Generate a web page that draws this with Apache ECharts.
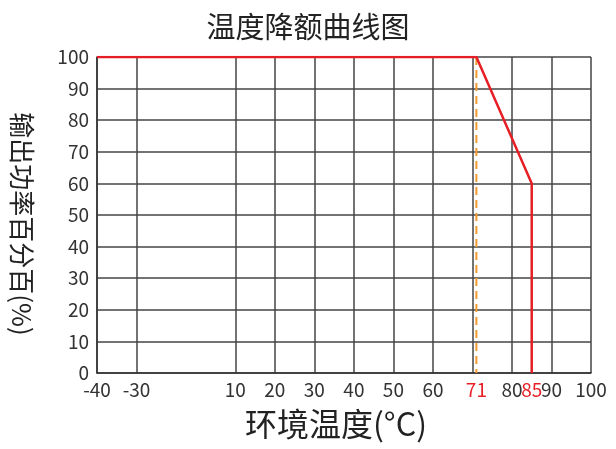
<!DOCTYPE html>
<html><head><meta charset="utf-8">
<script src="https://cdn.jsdelivr.net/npm/echarts@6/dist/echarts.min.js"></script>
<style>html,body{margin:0;padding:0;background:#fff}#c{width:616px;height:449px}</style>
</head><body><div id="c"></div>
<script>
// Data
const curveTemps = [-40, 71, 85, 85];
const curvePower = [100, 100, 60, 0];
const markerTemp = 71;
const markerPower = [100, 0];
const gridTemps = [-40, -30, 10, 20, 30, 40, 50, 60, 70, 80, 90, 100];
const labelTemps = [-40, -30, 10, 20, 30, 40, 50, 60, 71, 80, 85, 90, 100];
const redLabels = [71, 85];

// Broken axis: -30..10 is compressed
function fwd(t){ return t <= -30 ? t : (t <= 10 ? -30 + (t + 30) * 25 / 40 : t - 15); }
function inv(v){ return v <= -30 ? v : (v <= -5 ? -30 + (v + 30) * 40 / 25 : v + 15); }

const font = '"Noto Sans CJK SC", "Noto Sans", sans-serif';
const chart = echarts.init(document.getElementById('c'));
chart.setOption({
  animation: false,
  title: { text: '温度降额曲线图', left: 'center', top: 7,
    textStyle: { fontFamily: font, fontSize: 29, fontWeight: 'normal', color: '#222' } },
  grid: { left: 97, right: 25, top: 57, bottom: 76 },
  xAxis: {
    type: 'value', min: fwd(-40), max: fwd(100),
    name: '环境温度(°C)', nameLocation: 'middle', nameGap: 35,
    nameTextStyle: { fontFamily: font, fontSize: 32, color: '#222', padding: [0,16,0,0] },
    axisLine: { show: true, onZero: false, lineStyle: { color: '#333', width: 1.5 } },
    axisTick: { show: false, customValues: gridTemps.map(fwd) },
    axisLabel: {
      customValues: labelTemps.map(fwd), margin: 7,
      fontFamily: font, fontSize: 19, color: '#333',
      formatter: function(v){ const t = Math.round(inv(v)); return redLabels.indexOf(t) >= 0 ? '{r|' + t + '}' : String(t); },
      rich: { r: { color: '#e61e25', fontFamily: font, fontSize: 19 } }
    },
    splitLine: { show: true, lineStyle: { color: '#444', width: 1.5 } }
  },
  yAxis: {
    type: 'value', min: 0, max: 100, interval: 10,
    name: '输出功率百分百(%)', nameLocation: 'middle', nameRotate: -90, nameGap: 62,
    nameTextStyle: { fontFamily: font, fontSize: 26, color: '#222', padding: [0,0,0,18] },
    axisLine: { show: true, onZero: false, lineStyle: { color: '#333', width: 1.5 } },
    axisTick: { show: false },
    axisLabel: { fontFamily: font, fontSize: 19, color: '#333', margin: 8 },
    splitLine: { show: true, lineStyle: { color: '#444', width: 1.5 } }
  },
  series: [
    { type: 'line', symbol: 'none', z: 3,
      data: markerPower.map(p => [fwd(markerTemp), p]),
      lineStyle: { color: '#f39a2e', width: 2, type: [8, 5] } },
    { type: 'line', symbol: 'none', z: 4,
      data: curveTemps.map((t, i) => [fwd(t), curvePower[i]]),
      lineStyle: { color: '#e61e25', width: 2.5 } }
  ]
});
</script></body></html>
